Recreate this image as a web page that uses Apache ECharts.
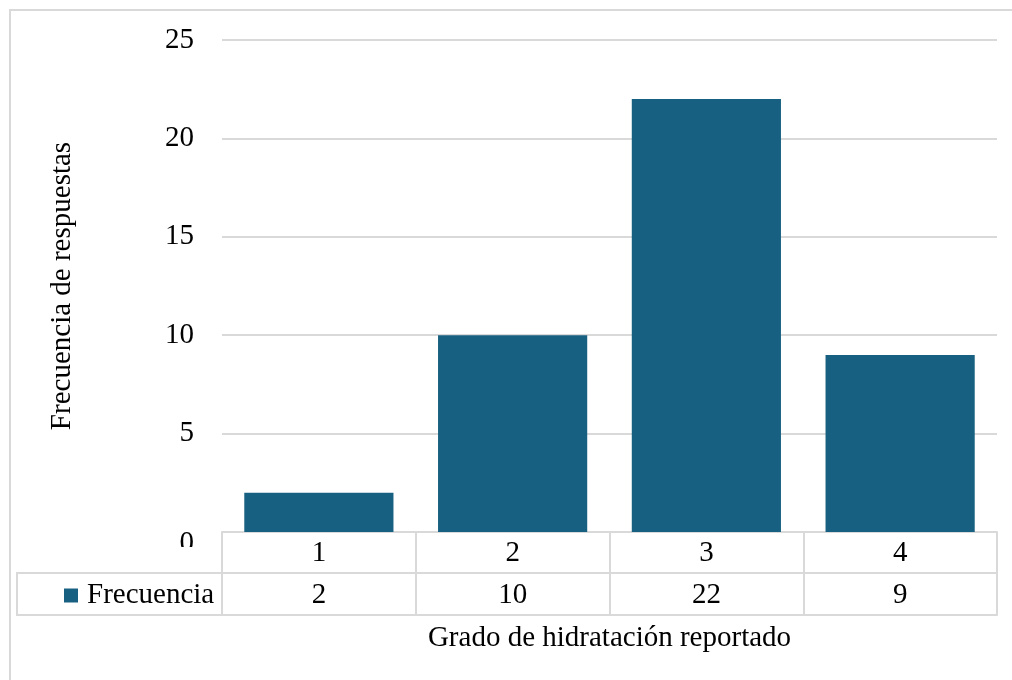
<!DOCTYPE html>
<html>
<head>
<meta charset="utf-8">
<script src="https://cdn.jsdelivr.net/npm/echarts@6/dist/echarts.min.js"></script>
<style>
  html, body { margin: 0; padding: 0; background: #ffffff; }
  #chart { width: 1012px; height: 680px; }
</style>
</head>
<body>
<div id="chart"></div>
<script>
// Reported hydration level (1–4) and how many answers fell in each
const categories = ['1', '2', '3', '4'];
const seriesName = 'Frecuencia';
const frequencies = [2, 10, 22, 9];
const yTicks = { min: 0, max: 25, interval: 5 };

const FONT = '"Liberation Serif", "Times New Roman", serif';
const FS = 29;
const GRID = '#d9d9d9';
const BAR = '#186081';

const chart = echarts.init(document.getElementById('chart'));

const tableAxisBase = {
  type: 'category',
  data: categories,
  position: 'bottom',
  boundaryGap: true,
  axisLine: { show: true, lineStyle: { color: GRID, width: 2 } },
  axisTick: { show: false },
  splitLine: { show: false }
};

chart.setOption({
  animation: false,
  backgroundColor: '#ffffff',
  grid: { left: 222, right: 15, top: 40, bottom: 148, containLabel: false },
  legend: {
    data: [seriesName],
    left: 59,
    top: 576,
    icon: 'rect',
    itemWidth: 14,
    itemHeight: 14,
    textStyle: { fontFamily: FONT, fontSize: FS, color: '#000', padding: [0, 0, 0, 4] }
  },
  xAxis: [
    // first table row: category labels, with the column rules as long ticks
    Object.assign({}, tableAxisBase, {
      name: 'Grado de hidratación reportado',
      nameLocation: 'middle',
      nameGap: 92,
      nameTextStyle: { fontFamily: FONT, fontSize: FS, color: '#000' },
      axisTick: { show: true, inside: false, length: 83, alignWithLabel: false,
                  lineStyle: { color: GRID, width: 2 } },
      axisLabel: { fontFamily: FONT, fontSize: FS, color: '#000', margin: 7 }
    }),
    // second table row: the series values
    Object.assign({}, tableAxisBase, {
      offset: 41,
      axisLabel: {
        fontFamily: FONT, fontSize: FS, color: '#000', margin: 8,
        formatter: (v, i) => String(frequencies[i])
      }
    }),
    // closing rule beneath the table
    Object.assign({}, tableAxisBase, {
      offset: 83,
      axisLabel: { show: false }
    })
  ],
  yAxis: {
    type: 'value',
    min: yTicks.min,
    max: yTicks.max,
    interval: yTicks.interval,
    name: 'Frecuencia de respuestas',
    nameLocation: 'middle',
    nameGap: 145,
    nameRotate: 90,
    nameTextStyle: { fontFamily: FONT, fontSize: FS, color: '#000' },
    axisLine: { show: false },
    axisTick: { show: false },
    axisLabel: {
      fontFamily: FONT, fontSize: FS, color: '#000', margin: 28,
      // the zero label sits a little lower, half hidden behind the table
      formatter: v => (v === 0 ? '{zero|0}' : String(v)),
      rich: { zero: { fontFamily: FONT, fontSize: FS, color: '#000', padding: [22, 0, 0, 0] } }
    },
    splitLine: { lineStyle: { color: GRID, width: 2 } }
  },
  series: [{
    name: seriesName,
    type: 'bar',
    xAxisIndex: 0,
    data: frequencies,
    barCategoryGap: '23%',
    itemStyle: { color: BAR },
    z: 3
  }],
  graphic: [
    // chart area frame
    { type: 'rect', z: -10, silent: true,
      shape: { x: 10, y: 10, width: 1020, height: 700 },
      style: { fill: 'none', stroke: GRID, lineWidth: 2 } },
    // white band the table draws over the lower part of the zero label
    { type: 'rect', z: 50, silent: true,
      shape: { x: 140, y: 547, width: 81, height: 25 },
      style: { fill: '#ffffff' } },
    // legend-key cell at the left of the values row
    { type: 'rect', z: 50, silent: true,
      shape: { x: 17, y: 573, width: 205, height: 42 },
      style: { fill: 'none', stroke: GRID, lineWidth: 2 } }
  ]
});
</script>
</body>
</html>
